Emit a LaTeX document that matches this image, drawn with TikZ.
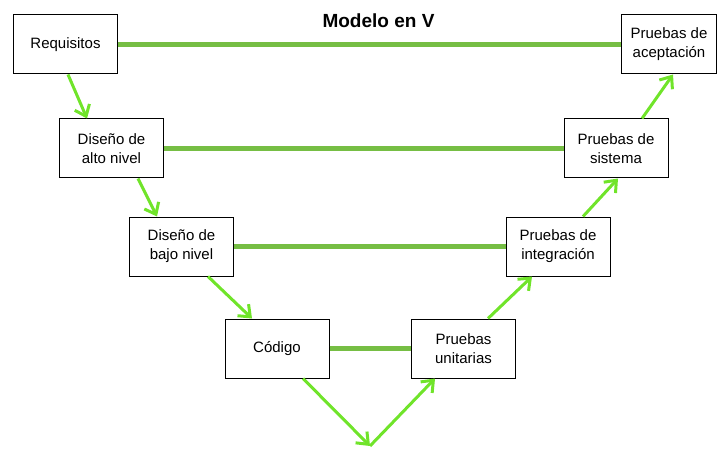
\documentclass[tikz,border=0pt]{standalone}
\usepackage{fontspec}
\setmainfont{Liberation Sans}
\usetikzlibrary{arrows.meta}
\definecolor{verdelinea}{RGB}{118,190,68}
\definecolor{verdeflecha}{RGB}{112,228,42}

\begin{document}
\begin{tikzpicture}[x=1pt,y=-1pt,
    caja/.style={draw,line width=1pt,fill=white,minimum width=104pt,minimum height=59pt,
      inner sep=0pt,align=center,font=\fontsize{15}{19}\selectfont},
    enlace/.style={verdelinea,line width=4.5pt},
    flecha/.style={verdeflecha,line width=3pt,-{Straight Barb[length=10pt,width=16pt]}}]
    \useasboundingbox (0,0) rectangle (717,449);
    \node[font=\bfseries\fontsize{19}{19}\selectfont] (titulo) at (378.5,21) {Modelo en V};
    \node[caja] (req) at (65.5,44.5) {Requisitos};
    \node[caja] (alto) at (111.5,148.5) {Diseño de\\alto nivel};
    \node[caja] (bajo) at (181.5,246.5) {Diseño de\\bajo nivel};
    \node[caja] (cod) at (277,348.5) {Código};
    \node[caja] (unit) at (463.5,348.5) {Pruebas\\unitarias};
    \node[caja] (integ) at (558,246.5) {Pruebas de\\integración};
    \node[caja] (sist) at (616,148.5) {Pruebas de\\sistema};
    \node[caja,minimum width=95pt] (acep) at (669,44.5) {Pruebas de\\aceptación};
    \coordinate (vert) at (370,446);
    \draw[enlace] (req.east) -- (acep.west);
    \draw[enlace] (alto.east) -- (sist.west);
    \draw[enlace] (bajo.east) -- (integ.west);
    \draw[enlace] (cod.east) -- (unit.west);
    \draw[flecha] ([xshift=2.5pt]req.south) -- ([xshift=-24.5pt]alto.north);
    \draw[flecha] ([xshift=26.5pt]alto.south) -- ([xshift=-24.5pt]bajo.north);
    \draw[flecha] ([xshift=26.5pt]bajo.south) -- ([xshift=-25pt]cod.north);
    \draw[flecha] ([xshift=26pt]cod.south) -- (vert);
    \draw[flecha] (vert) -- ([xshift=-28.5pt]unit.south);
    \draw[flecha] ([xshift=24.5pt]unit.north) -- ([xshift=-26pt]integ.south);
    \draw[flecha] ([xshift=25pt]integ.north) -- ([xshift=2pt]sist.south);
    \draw[flecha] ([xshift=26pt]sist.north) -- ([xshift=4pt]acep.south);
\end{tikzpicture}
\end{document}
